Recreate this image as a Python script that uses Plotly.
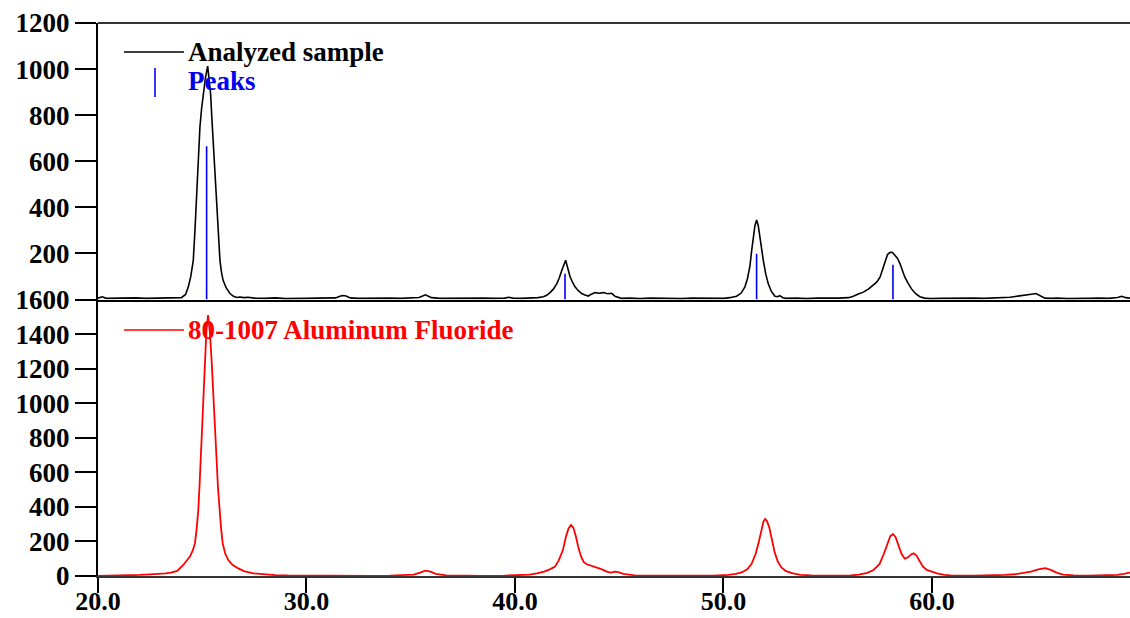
import plotly.graph_objects as go

# ---------------- data ----------------
sample_x = [20.0, 20.2, 20.4, 20.8, 21.3, 21.8, 22.3, 22.8, 23.3, 23.7,
            24.0, 24.2, 24.33, 24.45, 24.57, 24.65, 24.73, 24.81, 24.89, 24.97,
            25.05, 25.15, 25.26, 25.33, 25.4, 25.46, 25.53, 25.61, 25.69, 25.77,
            25.85, 25.92, 26.0, 26.15, 26.33, 26.5, 26.65, 26.8, 27.0, 27.2,
            27.5, 28.0, 28.5, 29.0, 29.5, 30.0, 30.5, 31.0, 31.4, 31.6,
            31.75, 31.9, 32.1, 32.5, 33.0, 33.5, 34.0, 34.5, 35.0, 35.4,
            35.6, 35.7, 35.85, 36.0, 36.4, 37.0, 37.5, 38.0, 38.5, 39.0,
            39.5, 39.7, 39.9, 40.3, 40.8, 41.1, 41.36, 41.52, 41.68, 41.84,
            42.0, 42.12, 42.24, 42.34, 42.43, 42.52, 42.64, 42.76, 42.88, 43.04,
            43.2, 43.36, 43.52, 43.64, 43.84, 44.04, 44.24, 44.44, 44.64, 44.8,
            44.95, 45.1, 45.5, 46.0, 46.5, 47.0, 47.5, 48.0, 48.5, 49.0,
            49.5, 50.0, 50.3, 50.63, 50.85, 51.03, 51.15, 51.27, 51.35, 51.43,
            51.51, 51.59, 51.67, 51.75, 51.83, 51.91, 52.03, 52.15, 52.3, 52.47,
            52.6, 52.7, 52.85, 53.0, 53.5, 54.0, 54.5, 55.0, 55.5, 56.0,
            56.23, 56.47, 56.71, 56.95, 57.19, 57.35, 57.51, 57.63, 57.75, 57.87,
            57.99, 58.11, 58.23, 58.35, 58.47, 58.58, 58.7, 58.86, 59.02, 59.22,
            59.42, 59.65, 59.9, 60.5, 61.0, 61.5, 62.0, 62.5, 63.0, 63.4,
            63.74, 64.0, 64.3, 64.6, 64.85, 64.99, 65.2, 65.42, 65.7, 66.0,
            66.5, 67.0, 67.5, 68.0, 68.5, 68.9, 69.1, 69.3, 69.5]
sample_y = [6, 12, 5, 6, 4, 7, 5, 6, 5, 7,
            8, 22, 54, 100, 170, 300, 460, 610, 750, 830,
            894, 960, 1013, 960, 894, 790, 678, 530, 387, 270,
            170, 120, 83, 50, 26, 14, 9, 11, 8, 10,
            6, 5, 7, 4, 6, 5, 6, 5, 7, 14,
            17, 15, 7, 5, 6, 4, 6, 5, 7, 9,
            16, 20, 14, 8, 5, 6, 4, 5, 6, 5,
            6, 10, 6, 5, 6, 8, 12, 18, 30, 45,
            68, 92, 125, 150, 170, 140, 100, 75, 55, 38,
            26, 20, 15, 22, 30, 27, 30, 25, 27, 14,
            8, 5, 6, 4, 6, 5, 6, 4, 6, 5,
            6, 5, 8, 14, 28, 55, 90, 145, 210, 271,
            320, 345, 320, 271, 215, 170, 110, 68, 35, 14,
            12, 17, 8, 5, 6, 4, 6, 5, 6, 8,
            14, 24, 32, 45, 61, 75, 97, 130, 170, 195,
            205, 204, 191, 178, 155, 125, 97, 70, 46, 25,
            12, 6, 4, 5, 6, 4, 6, 5, 6, 8,
            10, 13, 18, 20, 24, 26, 16, 6, 5, 6,
            4, 6, 5, 6, 5, 9, 14, 8, 6]

peak_x = [25.21, 42.40, 51.59, 58.13]
peak_h = [665, 112, 199, 151]

ref_x = [20.0, 21.0, 21.5, 22.0, 22.5, 23.0, 23.25, 23.5, 23.8, 24.09,
         24.25, 24.41, 24.55, 24.65, 24.73, 24.81, 24.87, 24.92, 24.97, 25.02,
         25.08, 25.13, 25.2, 25.28, 25.36, 25.45, 25.52, 25.58, 25.64, 25.69,
         25.75, 25.82, 25.9, 25.98, 26.1, 26.25, 26.45, 26.73, 27.0, 27.45,
         28.0, 28.5, 29.1, 30.0, 31.0, 32.0, 33.0, 34.0, 34.8, 35.15,
         35.45, 35.7, 35.95, 36.2, 36.7, 37.5, 38.5, 39.5, 40.3, 40.7,
         41.06, 41.4, 41.7, 41.92, 42.1, 42.3, 42.45, 42.57, 42.69, 42.8,
         42.92, 43.05, 43.18, 43.3, 43.45, 43.6, 43.8, 44.0, 44.17, 44.4,
         44.6, 44.8, 44.95, 45.2, 45.5, 45.73, 46.5, 47.5, 48.5, 49.5,
         50.23, 50.6, 50.9, 51.15, 51.35, 51.55, 51.7, 51.82, 51.92, 52.0,
         52.08, 52.2, 52.33, 52.45, 52.6, 52.78, 53.0, 53.34, 53.7, 54.2,
         55.0, 55.6, 56.1, 56.5, 56.9, 57.2, 57.49, 57.7, 57.88, 58.0,
         58.13, 58.26, 58.4, 58.55, 58.7, 58.85, 59.0, 59.12, 59.25, 59.4,
         59.56, 59.75, 60.0, 60.25, 60.6, 60.9, 62.0, 63.0, 63.5, 64.0,
         64.4, 64.75, 65.1, 65.44, 65.7, 66.0, 66.3, 66.8, 67.5, 68.3,
         68.9, 69.2, 69.5]
ref_y = [0, 1, 3, 6, 9, 12, 15, 20, 30, 64,
         85, 112, 150, 190, 270, 381, 520, 670, 810, 959,
         1100, 1248, 1420, 1510, 1420, 1248, 1100, 959, 810, 670,
         520, 381, 280, 190, 130, 92, 65, 44, 28, 15,
         8, 5, 3, 2, 1, 1, 1, 2, 4, 8,
         20, 31, 25, 12, 4, 1, 1, 2, 4, 8,
         15, 25, 40, 54, 90, 150, 230, 275, 295, 280,
         230, 160, 110, 80, 68, 62, 55, 45, 38, 25,
         20, 25, 22, 12, 7, 4, 2, 1, 1, 2,
         6, 12, 22, 40, 70, 130, 200, 270, 315, 330,
         320, 280, 210, 140, 85, 50, 28, 15, 7, 3,
         2, 2, 3, 8, 18, 35, 70, 130, 195, 230,
         243, 225, 175, 125, 100, 108, 125, 132, 120, 90,
         55, 35, 25, 15, 6, 3, 2, 3, 6, 10,
         16, 25, 38, 45, 35, 18, 8, 3, 2, 3,
         6, 12, 20]

x_ticks = [20, 30, 40, 50, 60]
x_ticktext = ["20.0", "30.0", "40.0", "50.0", "60.0"]
top_yticks = [200, 400, 600, 800, 1000, 1200]
bottom_yticks = [0, 200, 400, 600, 800, 1000, 1200, 1400, 1600]

series_names = ["Analyzed sample", "Peaks", "80-1007 Aluminum Fluoride"]

# ---------------- figure ----------------
W, H = 1130, 618
ML, MR, MT, MB = 98, 0, 23, 42
PW, PH = W - ML - MR, H - MT - MB

def px(xp):
    return (xp - ML) / PW

def py(yp):
    return (H - MB - yp) / PH

FONT = dict(family="Liberation Serif", size=27, color="black", weight="bold")
XFONT = dict(family="Liberation Serif", size=26, color="black", weight="bold")

fig = go.Figure()

fig.add_trace(go.Scatter(x=sample_x, y=sample_y, mode="lines",
                         line=dict(color="black", width=1.6),
                         xaxis="x2", yaxis="y2", showlegend=False))

stick_x, stick_y = [], []
for xv, hv in zip(peak_x, peak_h):
    stick_x += [xv, xv, None]
    stick_y += [0, hv, None]
fig.add_trace(go.Scatter(x=stick_x, y=stick_y, mode="lines",
                         line=dict(color="#0000ee", width=1.6),
                         xaxis="x2", yaxis="y2", showlegend=False))

fig.add_trace(go.Scatter(x=ref_x, y=ref_y, mode="lines",
                         line=dict(color="#ff0000", width=1.8),
                         xaxis="x", yaxis="y", showlegend=False))

axis_common = dict(showgrid=False, zeroline=False, automargin=False)

fig.update_layout(
    width=W, height=H,
    margin=dict(l=ML, r=MR, t=MT, b=MB, autoexpand=False),
    paper_bgcolor="white", plot_bgcolor="white",
    xaxis=dict(domain=[0, 1], range=[20, 69.5], tickvals=x_ticks,
               ticktext=x_ticktext, ticks="outside", ticklen=15,
               tickwidth=2, tickcolor="black", showline=True,
               linecolor="#333333", linewidth=2, anchor="y",
               ticklabelstandoff=-14, tickfont=XFONT, **axis_common),
    xaxis2=dict(domain=[0, 1], range=[20, 69.5], matches="x",
                showticklabels=False, ticks="", showline=True,
                linecolor="black", linewidth=2, anchor="y2",
                showgrid=False, zeroline=False, automargin=False),
    yaxis=dict(domain=[0, 0.5], range=[0, 1600], tickvals=bottom_yticks,
               ticks="outside", ticklen=21, tickwidth=2, tickcolor="black",
               showline=True, linecolor="black", linewidth=2, anchor="x",
               tickfont=FONT, **axis_common),
    yaxis2=dict(domain=[0.5, 1], range=[0, 1200], tickvals=top_yticks,
                ticks="outside", ticklen=21, tickwidth=2, tickcolor="black",
                showline=True, linecolor="black", linewidth=2, anchor="x2",
                tickfont=FONT, **axis_common),
)

# frame line on top
fig.add_shape(type="line", xref="paper", yref="paper", x0=0, x1=1, y0=1, y1=1,
              line=dict(color="#333333", width=2))

# custom legends
fig.add_shape(type="line", xref="paper", yref="paper",
              x0=px(124), x1=px(184), y0=py(52), y1=py(52),
              line=dict(color="black", width=1.6))
fig.add_shape(type="line", xref="paper", yref="paper",
              x0=px(155), x1=px(155), y0=py(68), y1=py(97),
              line=dict(color="#0000ee", width=1.6))
fig.add_shape(type="line", xref="paper", yref="paper",
              x0=px(124), x1=px(184), y0=py(330), y1=py(330),
              line=dict(color="#ff0000", width=1.6))

leg = [(series_names[0], 52, "black"), (series_names[1], 81, "#0000ee"),
       (series_names[2], 330, "#ff0000")]
for txt, yp, col in leg:
    fig.add_annotation(text=txt, xref="paper", yref="paper", x=px(186), y=py(yp),
                       xanchor="left", yanchor="middle", showarrow=False,
                       font=dict(family="Liberation Serif", size=27, color=col,
                                 weight="bold"))

fig.write_html("out.html")
